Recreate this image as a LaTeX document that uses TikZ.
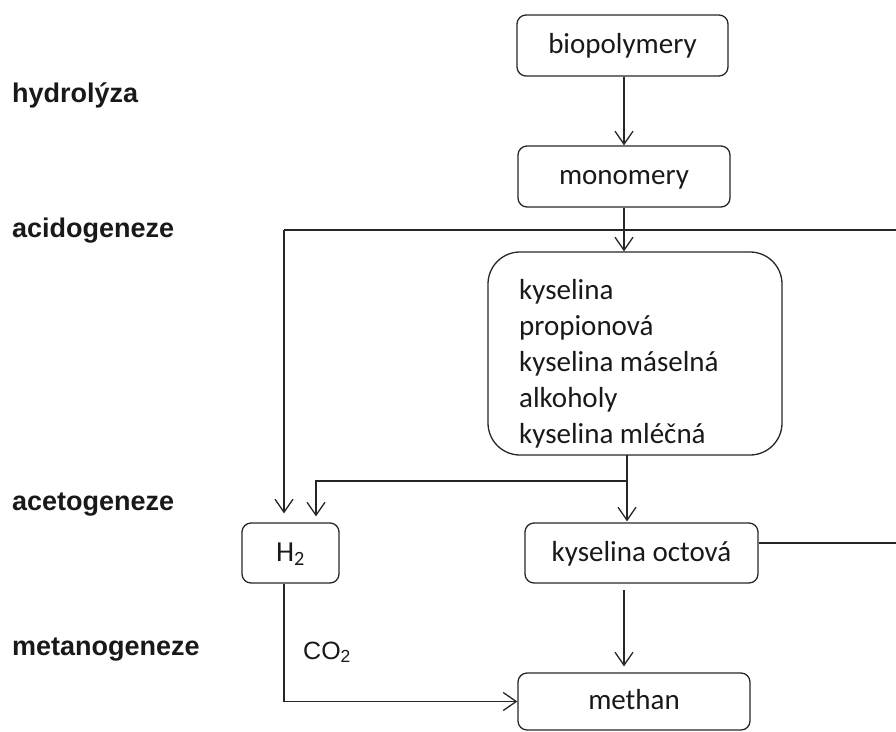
\documentclass[tikz,border=0pt]{standalone}
\usepackage{fontspec}
\setmainfont{Carlito}
\newfontfamily\labfont{Liberation Sans}
\usetikzlibrary{arrows.meta}
\tikzset{
  box/.style={draw=black!85, line width=1.3pt, rounded corners=9pt, inner sep=0pt,
    font=\fontsize{29}{36}\selectfont, text height=21pt, text depth=5pt, text=black!90},
  bigbox/.style={draw=black!85, line width=1.3pt, rounded corners=32pt, inner sep=0pt},
  boxtext/.style={anchor=base west, inner sep=0pt, font=\fontsize{29}{36}\selectfont, text=black!90},
  stage/.style={anchor=base west, inner sep=0pt, font=\labfont\bfseries\fontsize{27}{30}\selectfont, text=black!90},
  conn/.style={draw=black!85, line width=1.3pt},
  arr/.style={conn, -{Straight Barb[length=13pt,width=18pt,line width=1.3pt]}}
}
\begin{document}
\begin{tikzpicture}[x=1pt,y=-1pt]
\useasboundingbox (0,0) rectangle (896,731);
% stage labels
\node[stage] (l1) at (12,102) {hydrolýza};
\node[stage] (l2) at (12,237) {acidogeneze};
\node[stage] (l3) at (12,510) {acetogeneze};
\node[stage] (l4) at (12,655) {metanogeneze};
% boxes
\node[box, minimum width=211pt, minimum height=61pt] (bio) at (622.5,45.5) {biopolymery};
\node[box, minimum width=212pt, minimum height=61pt] (mono) at (624,176.5) {monomery};
\node[bigbox, minimum width=294pt, minimum height=203pt] (big) at (635,353.5) {};
\node[boxtext] (t1) at (519,299) {kyselina};
\node[boxtext] (t2) at (519,335) {propionová};
\node[boxtext] (t3) at (519,371) {kyselina máselná};
\node[boxtext] (t4) at (519,407) {alkoholy};
\node[boxtext] (t5) at (519,443) {kyselina mléčná};
\node[box, minimum width=97pt, minimum height=60pt] (h2) at (290.5,553) {H\textsubscript{2}};
\node[box, minimum width=233pt, minimum height=60pt] (oct) at (641.5,553) {kyselina octová};
\node[box, minimum width=232pt, minimum height=57pt] (meth) at (634,701.5) {methan};
\node[anchor=base west, inner sep=0pt, font=\labfont\fontsize{25}{30}\selectfont, text=black!90] (co2) at (303,659) {CO\textsubscript{2}};
% coordinates
\coordinate (accL) at (284,230);
\coordinate (accR) at (896,230);
\coordinate (bs) at (627,455);
\coordinate (split) at (627,481);
\coordinate (h2in) at (316,481);
\coordinate (octR) at (896,543);
\coordinate (octout) at (624,583);
% connectors
\draw[arr] (bio.south -| mono.north) -- (mono.north);
\draw[conn] (accL) -- (accR);
\draw[arr] (mono.south) -- (mono.south |- big.north);
\draw[arr, shorten >=9pt] (accL) -- (accL |- h2.north);
\draw[arr, shorten >=1pt] (bs) -- (bs |- oct.north);
\draw[arr, shorten >=6pt] (split) -- (h2in) -- (h2in |- h2.north);
\draw[conn] (oct.east |- octR) -- (octR);
\draw[arr, shorten <=7pt, shorten >=6pt] (octout) -- (octout |- meth.north);
\draw[arr] (h2.south -| accL) |- (meth.west);
\end{tikzpicture}
\end{document}
